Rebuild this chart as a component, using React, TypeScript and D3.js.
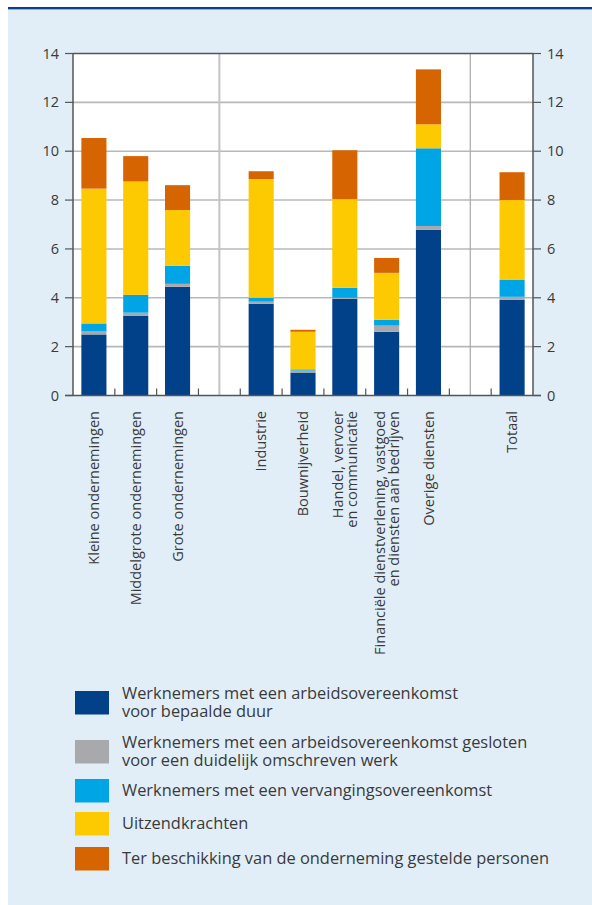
import React from "react";
import * as d3 from "d3";

const categories = [
  "Kleine ondernemingen",
  "Middelgrote ondernemingen",
  "Grote ondernemingen",
  "gap1",
  "Industrie",
  "Bouwnijverheid",
  "Handel, vervoer|en communicatie",
  "Financiële dienstverlening, vastgoed|en diensten aan bedrijven",
  "Overige diensten",
  "gap2",
  "Totaal",
];

const seriesNames = [
  "Werknemers met een arbeidsovereenkomst|voor bepaalde duur",
  "Werknemers met een arbeidsovereenkomst gesloten|voor een duidelijk omschreven werk",
  "Werknemers met een vervangingsovereenkomst",
  "Uitzendkrachten",
  "Ter beschikking van de onderneming gestelde personen",
];

const barCategories = [
  "Kleine ondernemingen",
  "Middelgrote ondernemingen",
  "Grote ondernemingen",
  "Industrie",
  "Bouwnijverheid",
  "Handel, vervoer|en communicatie",
  "Financiële dienstverlening, vastgoed|en diensten aan bedrijven",
  "Overige diensten",
  "Totaal",
];

const bepaaldeDuur = [2.5, 3.27, 4.45, 3.76, 0.94, 3.96, 2.61, 6.78, 3.92];
const omschrevenWerk = [0.12, 0.12, 0.12, 0.08, 0.08, 0.04, 0.25, 0.16, 0.12];
const vervanging = [0.33, 0.73, 0.74, 0.16, 0.05, 0.41, 0.24, 3.18, 0.69];
const uitzendkrachten = [5.52, 4.64, 2.28, 4.86, 1.54, 3.63, 1.92, 0.98, 3.27];
const terBeschikking = [2.07, 1.04, 1.02, 0.32, 0.08, 2.0, 0.61, 2.25, 1.14];

const yTicks = [0, 2, 4, 6, 8, 10, 12, 14];

const colors = ["#00418a", "#a8a9ac", "#00a5e6", "#fdc900", "#d66400"];

const W = 592;
const H = 905;
const left = 73;
const right = 533;
const top = 53.5;
const bottom = 395.5;
const font = "'Open Sans', 'Noto Sans', sans-serif";
const textColor = "#3a3a3a";

export default function App() {
  const x = d3
    .scaleBand<string>()
    .domain(categories)
    .range([left, right])
    .paddingInner(0.4)
    .paddingOuter(0.2);
  const y = d3.scaleLinear().domain([0, 14]).range([bottom, top]);
  const step = x.step();

  const rows = barCategories.map((c, i) => ({
    cat: c,
    s0: bepaaldeDuur[i],
    s1: omschrevenWerk[i],
    s2: vervanging[i],
    s3: uitzendkrachten[i],
    s4: terBeschikking[i],
  }));
  const stack = d3.stack<any>().keys(["s0", "s1", "s2", "s3", "s4"])(rows);

  const slotStart = (c: string) => (x(c) as number) - step * 0.2;
  const boundaries = categories.slice(1).map((c) => slotStart(c));
  const separators = ["gap1", "gap2"].map((c) => slotStart(c) + step / 2);

  const legendY = [691, 740, 779, 812, 847];

  return (
    <div style={{ position: "absolute", left: 0, top: 0 }}>
      <svg width={W} height={H} style={{ display: "block" }} fontFamily={font}>
        <rect x={8} y={8} width={W - 8} height={H - 8} fill="#e1eef7" />
        <rect x={8} y={7} width={W - 8} height={2} fill="#0b3f8c" />
        <rect x={8} y={9} width={W - 8} height={1} fill="#8fb0d6" />

        <rect x={left} y={top} width={right - left} height={bottom - top} fill="#ffffff" />

        {yTicks.slice(1, -1).map((t) => (
          <line key={t} x1={left} x2={right} y1={y(t)} y2={y(t)} stroke="#b8b8b8" strokeWidth={1.6} />
        ))}
        {separators.map((sx, i) => (
          <line key={i} x1={sx} x2={sx} y1={top} y2={bottom} stroke={i === 0 ? "#c4c4c4" : "#a8a8a8"} strokeWidth={i === 0 ? 2 : 1.2} />
        ))}

        {stack.map((layer, li) =>
          layer.map((d: any, i: number) => (
            <rect
              key={li + "-" + i}
              x={x(d.data.cat)}
              y={y(d[1])}
              width={x.bandwidth()}
              height={y(d[0]) - y(d[1])}
              fill={colors[li]}
            />
          ))
        )}

        {/* frame */}
        <line x1={left} x2={right} y1={top} y2={top} stroke="#555" strokeWidth={1.5} />
        <line x1={left} x2={left} y1={top} y2={bottom} stroke="#555" strokeWidth={1.5} />
        <line x1={right} x2={right} y1={top} y2={bottom} stroke="#555" strokeWidth={1.5} />
        <line x1={left - 8} x2={right + 8} y1={bottom} y2={bottom} stroke="#555" strokeWidth={1.5} />
        {boundaries.map((bx, i) => (
          <line key={i} x1={bx} x2={bx} y1={bottom} y2={bottom - 7} stroke="#555" strokeWidth={1.2} />
        ))}
        {yTicks.map((t) => (
          <g key={t}>
            <line x1={left - 8} x2={left} y1={y(t)} y2={y(t)} stroke="#555" strokeWidth={1.2} />
            <line x1={right} x2={right + 8} y1={y(t)} y2={y(t)} stroke="#555" strokeWidth={1.2} />
            <text x={59} y={y(t)} dy="0.35em" textAnchor="end" fontSize={14.5} fill={textColor}>
              {t}
            </text>
            <text x={547} y={y(t)} dy="0.35em" textAnchor="start" fontSize={14.5} fill={textColor}>
              {t}
            </text>
          </g>
        ))}

        {barCategories.map((c) => {
          const cx = (x(c) as number) + x.bandwidth() / 2;
          const lines = c.split("|");
          const lh = 14;
          return (
            <g key={c} transform={`translate(${cx},411) rotate(-90)`}>
              <text textAnchor="end" fontSize={14.5} fill={textColor}>
                {lines.map((ln, k) => (
                  <tspan key={k} x={0} y={(k - (lines.length - 1) / 2) * lh} dy="0.35em">
                    {ln}
                  </tspan>
                ))}
              </text>
            </g>
          );
        })}

        {seriesNames.map((name, i) => {
          const lines = name.split("|");
          const ry = legendY[i];
          const cy = ry + 11.5;
          return (
            <g key={name}>
              <rect x={75} y={ry} width={34} height={23.5} fill={colors[i]} />
              <text fontSize={16.4} fill={textColor}>
                {lines.map((ln, k) => (
                  <tspan key={k} x={122} y={cy + (k - (lines.length - 1) / 2) * 17.5} dy="0.35em">
                    {ln}
                  </tspan>
                ))}
              </text>
            </g>
          );
        })}
      </svg>
    </div>
  );
}
